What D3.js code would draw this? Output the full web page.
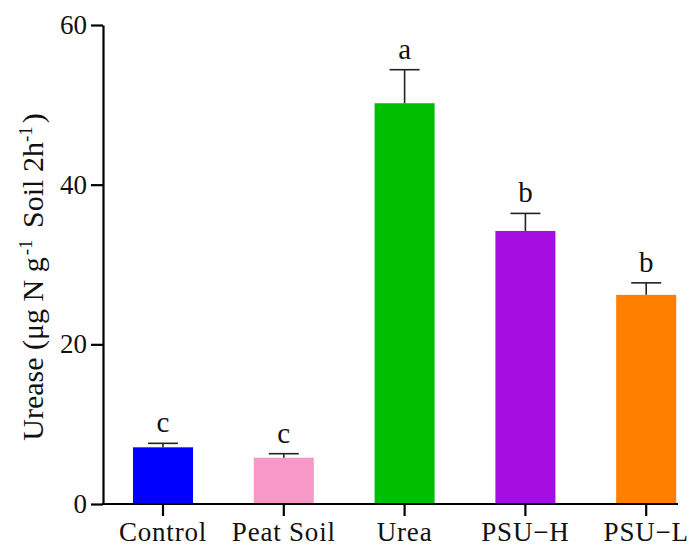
<!DOCTYPE html>
<html><head><meta charset="utf-8">
<script src="https://cdn.jsdelivr.net/npm/d3@7/dist/d3.min.js"></script>
<style>body{margin:0;background:#fff}</style>
</head><body>
<svg id="c" width="691" height="549"></svg>
<script>
const categories = ["Control", "Peat Soil", "Urea", "PSU\u2212H", "PSU\u2212L"];
const means = [7.1, 5.8, 50.2, 34.2, 26.2];
const errors = [0.5, 0.5, 4.2, 2.2, 1.5];
const letters = ["c", "c", "a", "b", "b"];
const colors = ["#0000ff", "#f799c8", "#00bf00", "#a50ee0", "#ff7f00"];
const yTicks = [0, 20, 40, 60];

const svg = d3.select("#c");
const font = "'Liberation Serif', 'Times New Roman', serif";
const x = d3.scaleBand().domain(categories).range([102.6, 706.6]).paddingInner(0.503).paddingOuter(0.2515);
const y = d3.scaleLinear().domain([0, 60]).range([504, 25]);

// bars
svg.selectAll("rect.bar").data(categories).join("rect")
  .attr("x", d => x(d)).attr("width", x.bandwidth())
  .attr("y", (d, i) => y(means[i])).attr("height", (d, i) => y(0) - y(means[i]))
  .attr("fill", (d, i) => colors[i]);

// error bars
const g = svg.append("g").attr("stroke", "#222").attr("stroke-width", 1.6);
categories.forEach((d, i) => {
  const cx = x(d) + x.bandwidth() / 2;
  g.append("line").attr("x1", cx).attr("x2", cx).attr("y1", y(means[i])).attr("y2", y(means[i] + errors[i]));
  g.append("line").attr("x1", cx - 15).attr("x2", cx + 15).attr("y1", y(means[i] + errors[i])).attr("y2", y(means[i] + errors[i]));
  svg.append("text").attr("x", cx).attr("y", y(means[i] + errors[i]) - 11)
    .attr("text-anchor", "middle").attr("font-family", font).attr("font-size", 29).attr("fill", "#111")
    .text(letters[i]);
});

// y axis
const ya = svg.append("g").attr("transform", "translate(103,0)")
  .call(d3.axisLeft(y).tickValues(yTicks).tickSize(12).tickPadding(4).tickSizeOuter(0));
ya.select(".domain").attr("stroke", "#000").attr("stroke-width", 2.2);
ya.selectAll(".tick line").attr("stroke", "#000").attr("stroke-width", 2.2);
ya.selectAll(".tick text").attr("font-family", font).attr("font-size", 27).attr("fill", "#111");

// x axis
const xa = svg.append("g").attr("transform", "translate(0,504)")
  .call(d3.axisBottom(x).tickSize(12).tickPadding(6));
xa.select(".domain").remove();
xa.append("line").attr("x1", 102).attr("x2", 678).attr("y1", 0).attr("y2", 0).attr("stroke", "#000").attr("stroke-width", 2.2);
xa.selectAll(".tick line").attr("stroke", "#000").attr("stroke-width", 2.2);
xa.selectAll(".tick text").attr("font-family", font).attr("font-size", 27).attr("letter-spacing", 0.8).attr("fill", "#111");

// y title
const t = svg.append("text").attr("transform", "translate(43,277) rotate(-90)")
  .attr("text-anchor", "middle").attr("font-family", font).attr("font-size", 30).attr("fill", "#111");
t.append("tspan").text("Urease (\u03bcg N g");
t.append("tspan").attr("dy", -11).attr("dx", 2).attr("font-size", 19).text("-1");
t.append("tspan").attr("dy", 11).attr("dx", 4).text(" Soil 2h");
t.append("tspan").attr("dy", -11).attr("font-size", 19).text("-1");
t.append("tspan").attr("dy", 11).attr("dx", 3).text(")");
</script>
</body></html>
